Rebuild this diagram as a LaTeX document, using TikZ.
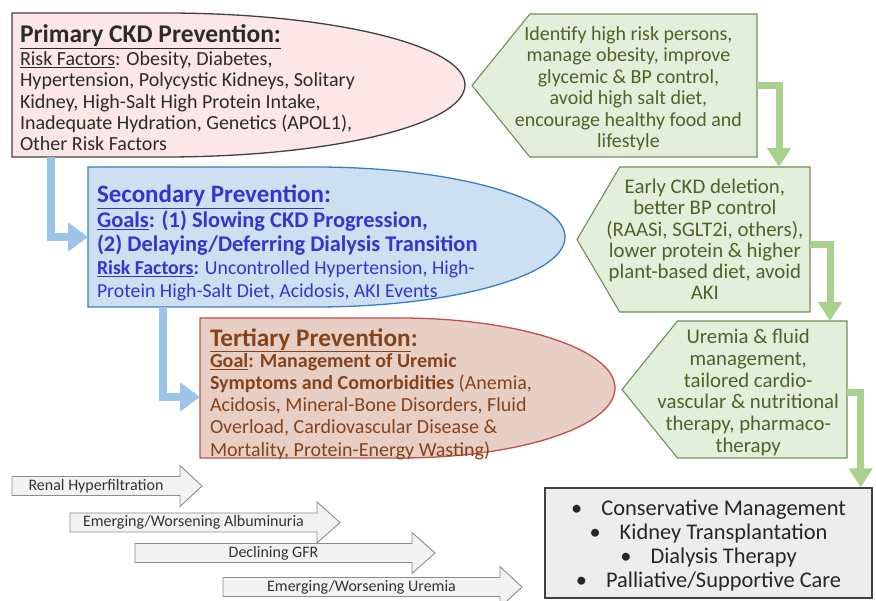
\documentclass[tikz,border=0pt]{standalone}
\usepackage{fontspec}
\setmainfont{Carlito}
\usetikzlibrary{
    positioning,
    arrows.meta,
    backgrounds,
    shapes.symbols
}
\lineskiplimit=-100pt

\definecolor{primfill}{HTML}{FCE6E6}
\definecolor{primline}{HTML}{404040}
\definecolor{primtext}{HTML}{2B2B2B}
\definecolor{secfill}{HTML}{CDE0F2}
\definecolor{secline}{HTML}{3A7DC0}
\definecolor{sectext}{HTML}{3434D2}
\definecolor{terfill}{HTML}{E7CFC6}
\definecolor{terline}{HTML}{C0504D}
\definecolor{tertext}{HTML}{86431A}
\definecolor{advfill}{HTML}{E2EFDA}
\definecolor{advline}{HTML}{6F8F58}
\definecolor{advtext}{HTML}{4F6228}
\definecolor{advarrow}{HTML}{A9D18E}
\definecolor{levarrow}{HTML}{9DC3E6}
\definecolor{outfill}{HTML}{EDEDED}
\definecolor{outline}{HTML}{404040}
\definecolor{stagefill}{HTML}{F2F2F2}
\definecolor{stageline}{HTML}{8C8C8C}

\begin{document}
\begin{tikzpicture}[
    x=1pt, y=1pt,
    % Estilos de Nodos
    level/.style={rectangle, anchor=north west, align=left, inner xsep=8pt, inner ysep=0pt, outer sep=0pt, minimum height=140pt},
    advice/.style={signal, signal to=west, signal from=nowhere, draw=advline, fill=advfill, line width=1.1pt, inner sep=0pt, outer sep=0pt, anchor=east},
    advtxt/.style={align=center, text=advtext, inner sep=0pt, font=\fontsize{20}{21.5}\selectfont},
    outcome/.style={rectangle, draw=outline, fill=outfill, line width=1.3pt, text=black!85, align=center, font=\fontsize{22.4}{24}\selectfont},
    stage/.style={rectangle, inner sep=0pt, outer sep=0pt, minimum height=19pt, text=black!80, font=\fontsize{16}{18}\selectfont},
    % Estilos de Flechas
    levelarrow/.style={-{Triangle[length=20pt, width=28pt]}, line width=8pt, draw=levarrow},
    advarrowstyle/.style={-{Triangle[length=19pt, width=23pt]}, line width=7pt, draw=advarrow},
    stagearrow/.style={draw=stageline, fill=stagefill, line width=0.9pt, line join=miter}
]
\useasboundingbox (0,0) rectangle (876,-601);

% --- Niveles de Prevencion ---
\node[level, minimum height=144pt, text=primtext, font=\fontsize{20}{21.2}\selectfont] (primary) at (12,-13)
    {\rule{0pt}{23pt}{\fontsize{25.5}{26}\selectfont\bfseries\underline{Primary CKD Prevention:}}\\[2pt]
     \underline{Risk Factors}: Obesity, Diabetes,\\
     Hypertension, Polycystic Kidneys, Solitary\\
     Kidney, High-Salt High Protein Intake,\\
     Inadequate Hydration, Genetics (APOL1),\\
     Other Risk Factors};

% el texto va 6pt mas abajo que la forma
\node[level, inner xsep=9pt, text=sectext, font=\fontsize{19.8}{23.2}\selectfont] (secondary) at (88,-173)
    {{\fontsize{25}{26}\selectfont\bfseries\underline{Secondary Prevention}:}\\[2pt]
     {\fontsize{22.4}{23}\selectfont\bfseries\underline{Goals}: (1) Slowing CKD Progression,}\\
     {\fontsize{22.4}{23}\selectfont\bfseries (2) Delaying/Deferring Dialysis Transition}\\
     \textbf{\underline{Risk Factors}:} Uncontrolled Hypertension, High-\\
     Protein High-Salt Diet, Acidosis, AKI Events};

\node[level, inner xsep=10pt, text=tertext, font=\fontsize{20}{22.2}\selectfont] (tertiary) at (200,-324)
    {{\fontsize{25.3}{26}\selectfont\bfseries\underline{Tertiary Prevention}:}\\[-1pt]
     \textbf{\underline{Goal}: Management of Uremic}\\
     \textbf{Symptoms and Comorbidities} (Anemia,\\
     Acidosis, Mineral-Bone Disorders, Fluid\\
     Overload, Cardiovascular Disease \&\\
     Mortality, Protein-Energy Wasting)};

\begin{pgfonlayer}{background}
    \draw[draw=primline, fill=primfill, line width=1.3pt] (primary.north west) -- ++(153,0)
        arc[start angle=90, end angle=-90, x radius=300, y radius=72] -- (primary.south west) -- cycle;
    \draw[draw=secline, fill=secfill, line width=1.3pt] ([yshift=6pt]secondary.north west) -- ++(227,0)
        arc[start angle=90, end angle=-90, x radius=250, y radius=70] -- ([yshift=6pt]secondary.south west) -- cycle;
    \draw[draw=terline, fill=terfill, line width=1.3pt] ([yshift=6pt]tertiary.north west) -- ++(200,0)
        arc[start angle=90, end angle=-90, x radius=215, y radius=70] -- ([yshift=6pt]tertiary.south west) -- cycle;
\end{pgfonlayer}

% --- Intervenciones ---
\node[advice, minimum width=285pt, minimum height=143pt, signal pointer angle=102,
      label={[advtxt, xshift=-15pt, yshift=-3pt]center:{Identify high risk persons,\\ manage obesity, improve\\ glycemic \& BP control,\\ avoid high salt diet,\\ encourage healthy food and\\ lifestyle}}] (g1) at (757,-85.5) {};
\node[advice, minimum width=233pt, minimum height=145pt, signal pointer angle=119,
      label={[advtxt, font=\fontsize{20.8}{21.2}\selectfont, xshift=-10pt]center:{Early CKD deletion,\\ better BP control\\ (RAASi, SGLT2i, others),\\ lower protein \& higher\\ plant-based diet, avoid\\ AKI}}] (g2) at (810,-239.5) {};
\node[advice, minimum width=225pt, minimum height=137pt, signal pointer angle=102,
      label={[advtxt, font=\fontsize{20.8}{21.8}\selectfont, xshift=-14pt, yshift=-3pt]center:{Uremia \& fluid\\ management,\\ tailored cardio-\\ vascular \& nutritional\\ therapy, pharmaco-\\ therapy}}] (g3) at (847,-389.5) {};

% --- Desenlace ---
\node[outcome, minimum width=327pt, minimum height=110pt] (final) at (708.5,-543)
    {\rule{0pt}{21pt}\textbullet\hspace{0.85em}Conservative Management\\
     \textbullet\hspace{0.85em}Kidney Transplantation\\
     \textbullet\hspace{0.85em}Dialysis Therapy\\
     \textbullet\hspace{0.85em}Palliative/Supportive Care};

% --- Flechas entre niveles ---
\draw[levelarrow] ([xshift=39pt]primary.south west) |- ([yshift=6pt]secondary.west);
\draw[levelarrow] ([xshift=75pt, yshift=6pt]secondary.south west) |- ([yshift=-3pt]tertiary.west);

\draw[advarrowstyle] (g1.east) -| ([xshift=-31pt]g2.north east);
\draw[advarrowstyle] ([yshift=-5pt]g2.east) -| ([xshift=-17pt]g3.north east);
\draw[advarrowstyle] ([yshift=-3pt]g3.east) -| ([xshift=-12pt]final.north east);

% --- Etapas de la enfermedad ---
\node[stage, minimum width=168pt] (hyper) at (96,-486) {Renal Hyperfiltration};
\node[stage, minimum width=247pt] (albu) at (193.5,-522.5) {Emerging/Worsening Albuminuria};
\node[stage, minimum width=277pt] (gfr) at (273.5,-553) {Declining GFR};
\node[stage, minimum width=277pt] (urem) at (361.5,-587) {Emerging/Worsening Uremia};

\begin{pgfonlayer}{background}
    \draw[stagearrow] (hyper.north west) -- (hyper.north east) -- ++(0,11) -- ([xshift=22pt]hyper.east)
        -- ([yshift=-11pt]hyper.south east) -- (hyper.south east) -- (hyper.south west) -- cycle;
    \draw[stagearrow] (albu.north west) -- (albu.north east) -- ++(0,11) -- ([xshift=23pt]albu.east)
        -- ([yshift=-11pt]albu.south east) -- (albu.south east) -- (albu.south west) -- cycle;
    \draw[stagearrow] (gfr.north west) -- (gfr.north east) -- ++(0,11) -- ([xshift=23pt]gfr.east)
        -- ([yshift=-11pt]gfr.south east) -- (gfr.south east) -- (gfr.south west) -- cycle;
    \draw[stagearrow] (urem.north west) -- (urem.north east) -- ++(0,11) -- ([xshift=22pt]urem.east)
        -- ([yshift=-11pt]urem.south east) -- (urem.south east) -- (urem.south west) -- cycle;
\end{pgfonlayer}

\end{tikzpicture}
\end{document}
